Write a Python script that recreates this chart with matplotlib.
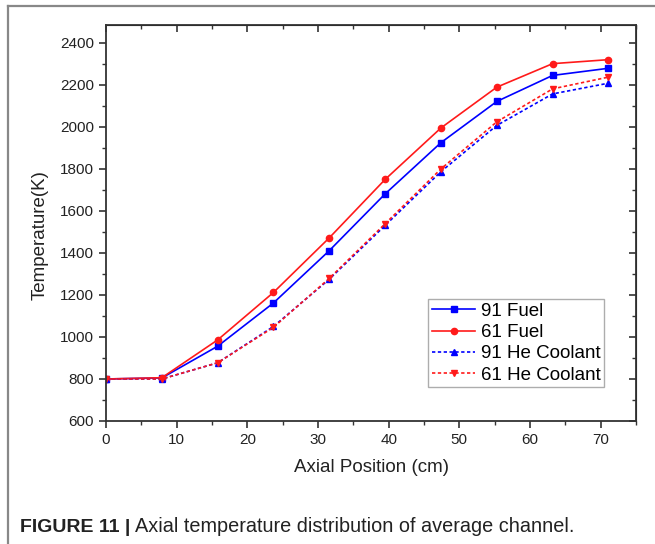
import matplotlib
matplotlib.use('Agg')
import matplotlib.pyplot as plt
from matplotlib.lines import Line2D
from matplotlib.ticker import MultipleLocator

plt.rcParams['font.family'] = ['Liberation Sans', 'DejaVu Sans']

# Axial positions (cm)
position = [0, 7.9, 15.8, 23.7, 31.6, 39.5, 47.4, 55.3, 63.2, 71.1]

# Temperatures (K)
fuel_91 = [800, 805, 956, 1162, 1411, 1681, 1925, 2121, 2245, 2279]
fuel_61 = [800, 806, 986, 1212, 1472, 1750, 1995, 2189, 2301, 2320]
he_91 = [800, 800, 877, 1050, 1275, 1531, 1787, 2007, 2157, 2208]
he_61 = [800, 800, 877, 1046, 1279, 1539, 1800, 2024, 2181, 2237]

fig = plt.figure(figsize=(6.55, 5.44), dpi=100)
ax = fig.add_axes([106 / 655, 1 - 421 / 544, 530 / 655, 396 / 544])

ax.plot(position, fuel_91, color='#0000ff', linestyle='-', lw=1.2,
        marker='s', markersize=4.5, label='91 Fuel')
ax.plot(position, fuel_61, color='#ff1a1a', linestyle='-', lw=1.2,
        marker='o', markersize=4.5, label='61 Fuel')
ax.plot(position, he_91, color='#0000ff', linestyle=(0, (2, 1.5)), lw=1.2,
        marker='^', markersize=4.5, label='91 He Coolant')
ax.plot(position, he_61, color='#ff1a1a', linestyle=(0, (2, 1.5)), lw=1.2,
        marker='v', markersize=4.5, label='61 He Coolant')

ax.set_xlim(0, 75)
ax.set_ylim(600, 2485)
ax.xaxis.set_major_locator(MultipleLocator(10))
ax.xaxis.set_minor_locator(MultipleLocator(5))
ax.yaxis.set_major_locator(MultipleLocator(200))
ax.yaxis.set_minor_locator(MultipleLocator(100))

for s in ax.spines.values():
    s.set_color('#333333')
    s.set_linewidth(1.3)

ax.tick_params(which='major', direction='out', length=5, width=1.2,
               colors='#333333', labelsize=11, labelcolor='#222222')
ax.tick_params(which='minor', direction='out', length=3, width=1.0, colors='#333333')

# mirrored inward ticks on top and right
top = ax.secondary_xaxis('top')
top.xaxis.set_major_locator(MultipleLocator(10))
top.xaxis.set_minor_locator(MultipleLocator(5))
top.tick_params(which='major', direction='in', length=5, width=1.2,
                colors='#333333', labeltop=False)
top.tick_params(which='minor', direction='in', length=3, width=1.0, colors='#333333')
right = ax.secondary_yaxis('right')
right.yaxis.set_major_locator(MultipleLocator(200))
right.yaxis.set_minor_locator(MultipleLocator(100))
right.tick_params(which='major', direction='in', length=5, width=1.2,
                  colors='#333333', labelright=False)
right.tick_params(which='minor', direction='in', length=3, width=1.0, colors='#333333')

ax.set_xlabel('Axial Position (cm)', fontsize=13.5, color='#222222', labelpad=9)
ax.set_ylabel('Temperature(K)', fontsize=13.5, color='#222222')
ax.yaxis.set_label_coords(-0.108, 0.47)

leg = ax.legend(loc='lower right', bbox_to_anchor=(0.94, 0.085), fontsize=13.5,
                frameon=True, fancybox=False, edgecolor='#999999',
                handlelength=2.3, handletextpad=0.3, borderpad=0.2,
                labelspacing=0.22, borderaxespad=0)
leg.get_frame().set_linewidth(1.0)

# caption: bold figure number followed by the regular text
cap_y = 1 - 527 / 544
bold = fig.text(20 / 655, cap_y, 'FIGURE 11 |', fontsize=14, fontweight='bold',
                color='#222222', va='center', ha='left')
fig.canvas.draw()
bb = bold.get_window_extent()
fig.text((bb.x1 + 5) / 655, cap_y, 'Axial temperature distribution of average channel.',
         fontsize=14.3, color='#222222', va='center', ha='left')

# page border (left and top)
fig.add_artist(Line2D([7.5 / 655, 7.5 / 655], [0, 1 - 6 / 544], color='#888888',
                      lw=1.6, transform=fig.transFigure))
fig.add_artist(Line2D([7.5 / 655, 1], [1 - 6 / 544, 1 - 6 / 544], color='#888888',
                      lw=1.6, transform=fig.transFigure))

fig.savefig('out.png', dpi=100)
